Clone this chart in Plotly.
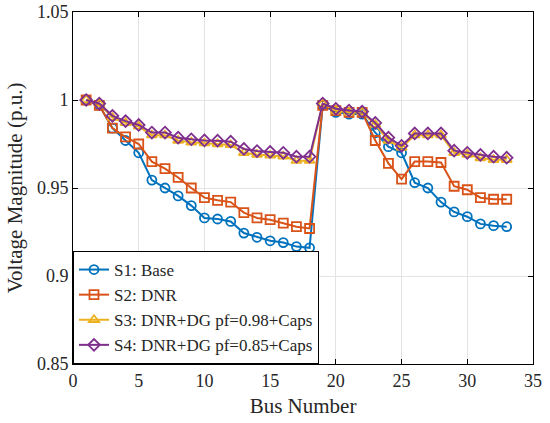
import plotly.graph_objects as go

# bus voltage profiles (p.u.)
bus = list(range(1, 34))

s1_base = [1.000, 0.997, 0.984, 0.977, 0.970, 0.9545, 0.950, 0.9455, 0.940, 0.933,
           0.9324, 0.931, 0.9244, 0.922, 0.920, 0.919, 0.9167, 0.916, 0.997, 0.993,
           0.992, 0.992, 0.9814, 0.9735, 0.970, 0.953, 0.950, 0.942, 0.9364, 0.9337,
           0.9296, 0.9286, 0.928]

s2_dnr = [1.000, 0.997, 0.984, 0.979, 0.975, 0.965, 0.961, 0.956, 0.950, 0.9445,
          0.943, 0.942, 0.936, 0.933, 0.932, 0.930, 0.928, 0.927, 0.997, 0.994,
          0.993, 0.993, 0.977, 0.964, 0.955, 0.965, 0.965, 0.9645, 0.951, 0.949,
          0.9445, 0.9436, 0.9436]

s3_dg098 = [1.000, 0.998, 0.990, 0.987, 0.985, 0.980, 0.980, 0.977, 0.976, 0.9755,
            0.975, 0.9745, 0.970, 0.969, 0.9685, 0.968, 0.9655, 0.9655, 0.998, 0.994,
            0.993, 0.993, 0.986, 0.977, 0.973, 0.980, 0.980, 0.980, 0.970, 0.969,
            0.967, 0.966, 0.966]

s4_dg085 = [1.000, 0.998, 0.991, 0.988, 0.9858, 0.9815, 0.9815, 0.9786, 0.9777, 0.977,
            0.9769, 0.9763, 0.9722, 0.971, 0.9705, 0.970, 0.9678, 0.9678, 0.998, 0.995,
            0.994, 0.9934, 0.987, 0.9786, 0.974, 0.981, 0.981, 0.981, 0.9712, 0.970,
            0.9688, 0.9678, 0.9672]

series = [
    ("S1: Base", s1_base, "#0072BD", "circle-open"),
    ("S2: DNR", s2_dnr, "#D95319", "square-open"),
    ("S3: DNR+DG pf=0.98+Caps", s3_dg098, "#EDB120", "triangle-up-open"),
    ("S4: DNR+DG pf=0.85+Caps", s4_dg085, "#7E2F8E", "diamond-open"),
]

FONT = "Liberation Serif"

fig = go.Figure()
for name, vals, color, symbol in series:
    fig.add_trace(go.Scatter(
        x=bus, y=vals, name=name, mode="lines+markers",
        line=dict(color=color, width=2),
        marker=dict(symbol=symbol, size=9, color=color, line=dict(width=1.8, color=color)),
    ))

axis_style = dict(
    showline=True, linecolor="black", linewidth=1, mirror="ticks",
    ticks="inside", ticklen=5, tickcolor="black",
    showgrid=True, gridcolor="#e3e3e3", gridwidth=1, zeroline=False,
    automargin=False,
    tickfont=dict(family=FONT, size=18, color="#262626"),
)

fig.update_xaxes(range=[0, 35], dtick=5, tick0=0,
                 title=dict(text="Bus Number", font=dict(family=FONT, size=21, color="#262626"),
                            standoff=8),
                 **axis_style)
fig.update_yaxes(range=[0.85, 1.05],
                 tickvals=[0.85, 0.9, 0.95, 1.0, 1.05],
                 ticktext=["0.85", "0.9", "0.95", "1", "1.05"],
                 title=dict(text="Voltage Magnitude (p.u.)", font=dict(family=FONT, size=21, color="#262626"),
                            standoff=8),
                 **axis_style)

fig.update_layout(
    width=550, height=423,
    margin=dict(l=73, r=17, t=12, b=59),
    plot_bgcolor="white", paper_bgcolor="white",
    font=dict(family=FONT, color="#262626"),
    legend=dict(x=0, y=0, xanchor="left", yanchor="bottom",
                bgcolor="white", bordercolor="black", borderwidth=1,
                font=dict(family=FONT, size=17, color="#262626"),
                tracegroupgap=0, itemwidth=30),
)

# drop the default page margin so the 550x423 figure fills the window exactly
fig.write_html("out.html", config={"displayModeBar": False},
               post_script="document.body.style.margin='0';document.body.style.overflow='hidden';")
